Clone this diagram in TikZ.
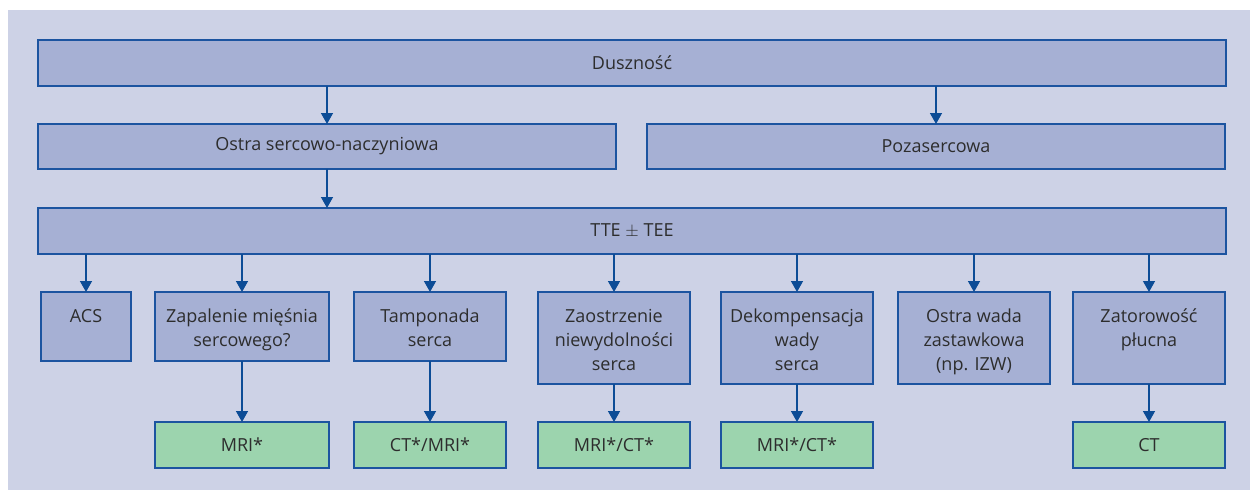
\documentclass[tikz,border=0pt]{standalone}
\usepackage{fontspec}
\setmainfont{Open Sans}
\usetikzlibrary{arrows.meta,calc}
\definecolor{bgpanel}{RGB}{205,210,230}
\definecolor{boxfill}{RGB}{166,176,212}
\definecolor{boxline}{RGB}{28,84,160}
\definecolor{testfill}{RGB}{156,212,174}
\definecolor{arrowcol}{RGB}{12,76,150}
\definecolor{textcol}{RGB}{45,45,45}
\newcommand{\txtfont}{\fontsize{18}{24}\selectfont}
\begin{document}
\begin{tikzpicture}[x=1pt,y=-1pt,
  boxbase/.style={draw=boxline,line width=1.4pt,inner sep=0pt,outer sep=0pt},
  stagebox/.style={boxbase,fill=boxfill},
  testbox/.style={boxbase,fill=testfill,font=\txtfont,text=textcol},
  wide/.style={stagebox,font=\txtfont,text=textcol},
  lbl/.style={font=\txtfont,text=textcol,align=center,inner sep=0pt,anchor=base},
  flow/.style={draw=arrowcol,line width=1.4pt,-{Triangle[length=11pt,width=12pt]}}]
\useasboundingbox (0,0) rectangle (1250,490);
\fill[bgpanel] (8,10) rectangle (1250,490);

% upper levels
\node[wide,minimum width=1188pt,minimum height=46pt] (dus) at (632,63) {Duszność};
\node[wide,minimum width=578pt,minimum height=45pt] (ost) at (327,146.5) {Ostra sercowo-naczyniowa};
\node[wide,minimum width=578pt,minimum height=45pt] (poz) at (936,146.5) {Pozasercowa};
\node[wide,minimum width=1188pt,minimum height=46pt] (tte) at (632,231) {TTE $\pm$ TEE};

% diagnoses
\node[stagebox,minimum width=90pt,minimum height=69pt] (acs) at (86,326.5) {};
\node[stagebox,minimum width=174pt,minimum height=69pt] (zap) at (242,326.5) {};
\node[stagebox,minimum width=152pt,minimum height=69pt] (tam) at (430,326.5) {};
\node[stagebox,minimum width=152pt,minimum height=92pt] (zao) at (614,338) {};
\node[stagebox,minimum width=152pt,minimum height=92pt] (dek) at (797,338) {};
\node[stagebox,minimum width=152pt,minimum height=92pt] (osw) at (974,338) {};
\node[stagebox,minimum width=152pt,minimum height=92pt] (zat) at (1149,338) {};

% box texts, first baseline 30pt below the top edge (base = last line)
\node[lbl] at ($(acs.north)+(0,30)$) {ACS};
\node[lbl] at ($(zap.north)+(0,54)$) {Zapalenie mięśnia\\sercowego?};
\node[lbl] at ($(tam.north)+(0,54)$) {Tamponada\\serca};
\node[lbl] at ($(zao.north)+(0,78)$) {Zaostrzenie\\niewydolności\\serca};
\node[lbl] at ($(dek.north)+(0,78)$) {Dekompensacja\\wady\\serca};
\node[lbl] at ($(osw.north)+(0,78)$) {Ostra wada\\zastawkowa\\(np. IZW)};
\node[lbl] at ($(zat.north)+(0,54)$) {Zatorowość\\płucna};

% imaging
\node[testbox,minimum width=174pt,minimum height=46pt] (mri) at (242,445) {MRI*};
\node[testbox,minimum width=152pt,minimum height=46pt] (ctmri) at (430,445) {CT*/MRI*};
\node[testbox,minimum width=152pt,minimum height=46pt] (mrict1) at (614,445) {MRI*/CT*};
\node[testbox,minimum width=152pt,minimum height=46pt] (mrict2) at (797,445) {MRI*/CT*};
\node[testbox,minimum width=152pt,minimum height=46pt] (ct) at (1149,445) {CT};

% connectors
\draw[flow] (dus.south -| ost.north) -- (ost.north);
\draw[flow] (dus.south -| poz.north) -- (poz.north);
\draw[flow] (ost.south) -- (tte.north -| ost.south);
\foreach \n in {acs,zap,tam,zao,dek,osw,zat}
  \draw[flow] (tte.south -| \n.north) -- (\n.north);
\draw[flow] (zap.south) -- (mri.north);
\draw[flow] (tam.south) -- (ctmri.north);
\draw[flow] (zao.south) -- (mrict1.north);
\draw[flow] (dek.south) -- (mrict2.north);
\draw[flow] (zat.south) -- (ct.north);
\end{tikzpicture}
\end{document}
